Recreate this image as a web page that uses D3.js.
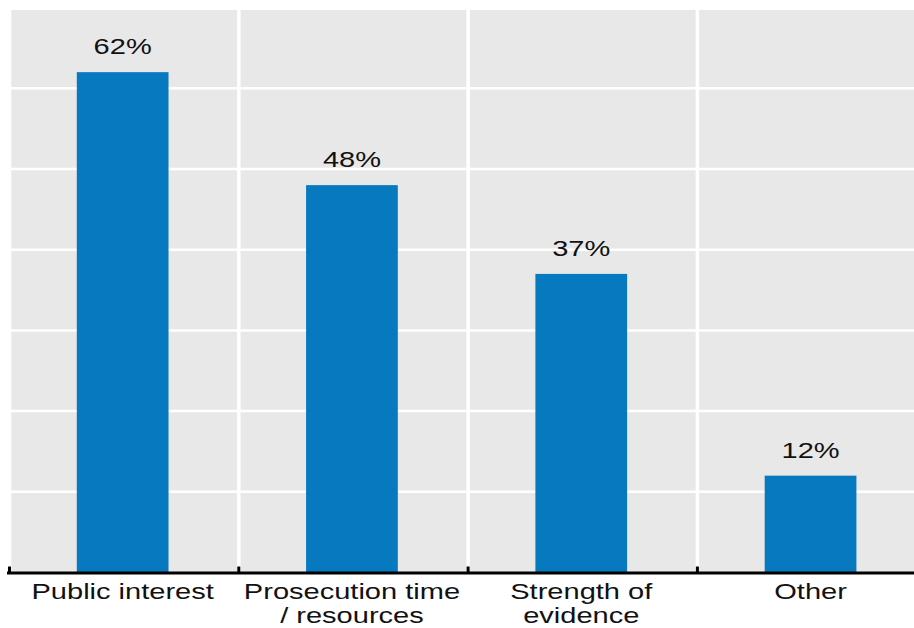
<!DOCTYPE html>
<html>
<head>
<meta charset="utf-8">
<script src="https://cdn.jsdelivr.net/npm/d3@7"></script>
<style>
  html, body { margin: 0; padding: 0; background: #fff; }
  svg { display: block; }
  text { font-family: "Liberation Sans", Arial, sans-serif; fill: #111; }
</style>
</head>
<body>
<svg id="chart" width="914" height="628"></svg>
<script>
// Reasons given, share of respondents (%)
const categories = ["Public interest", "Prosecution time / resources", "Strength of evidence", "Other"];
const labelLines = [["Public interest"], ["Prosecution time", "/ resources"], ["Strength of", "evidence"], ["Other"]];
const values = [62, 48, 37, 12];
const gridValues = [10, 20, 30, 40, 50, 60];

const W = 914, H = 628;
const baseline = 572.5;
const stretch = 1.32; // wide type used throughout the chart

const svg = d3.select("#chart");

const x = d3.scaleBand()
  .domain(categories)
  .range([8, 8 + 229.3 * 4])
  .paddingInner(0.6)
  .paddingOuter(0.3);

const y = d3.scaleLinear()
  .domain([0, 70])
  .range([baseline, baseline - 70 * 8.07]);

const step = x.step();
const bandStart = c => x(c) - x.paddingOuter() * step;

// panel background
const panelTop = 10;
svg.append("rect")
  .attr("x", 8).attr("y", panelTop)
  .attr("width", W - 8).attr("height", baseline - panelTop)
  .attr("fill", "#e8e8e8");

// horizontal gridlines
svg.append("g").selectAll("line")
  .data(gridValues)
  .join("line")
  .attr("x1", 8).attr("x2", W)
  .attr("y1", d => y(d)).attr("y2", d => y(d))
  .attr("stroke", "#fff").attr("stroke-width", 2.5);

// vertical separators between categories
svg.append("g").selectAll("line")
  .data(categories)
  .join("line")
  .attr("x1", d => bandStart(d) + 1.5).attr("x2", d => bandStart(d) + 1.5)
  .attr("y1", panelTop).attr("y2", baseline)
  .attr("stroke", "#fff").attr("stroke-width", 3.5);

// bars
svg.append("g").selectAll("rect")
  .data(values)
  .join("rect")
  .attr("x", (d, i) => x(categories[i]))
  .attr("width", x.bandwidth())
  .attr("y", d => y(d))
  .attr("height", d => baseline - y(d))
  .attr("fill", "#0779bf");

// value labels
svg.append("g").selectAll("text")
  .data(values)
  .join("text")
  .attr("transform", (d, i) => `translate(${x(categories[i]) + x.bandwidth() / 2},${y(d) - 18}) scale(${stretch},1)`)
  .attr("text-anchor", "middle")
  .attr("font-size", 22)
  .text(d => d + "%");

// x axis: baseline with inward ticks at category boundaries
const axis = svg.append("g");
axis.append("line")
  .attr("x1", 7).attr("x2", W)
  .attr("y1", baseline + 0.5).attr("y2", baseline + 0.5)
  .attr("stroke", "#000").attr("stroke-width", 3);
axis.selectAll("line.tick")
  .data(categories)
  .join("line")
  .attr("class", "tick")
  .attr("x1", d => bandStart(d) + 1.5).attr("x2", d => bandStart(d) + 1.5)
  .attr("y1", baseline - 6).attr("y2", baseline)
  .attr("stroke", "#000").attr("stroke-width", 3);

// category labels
const cat = svg.append("g").selectAll("g")
  .data(categories)
  .join("g");
cat.each(function (c, i) {
  const g = d3.select(this);
  labelLines[i].forEach((line, j) => {
    g.append("text")
      .attr("transform", `translate(${x(c) + x.bandwidth() / 2},${599 + j * 24}) scale(${stretch},1)`)
      .attr("text-anchor", "middle")
      .attr("font-size", 22)
      .text(line);
  });
});
</script>
</body>
</html>
